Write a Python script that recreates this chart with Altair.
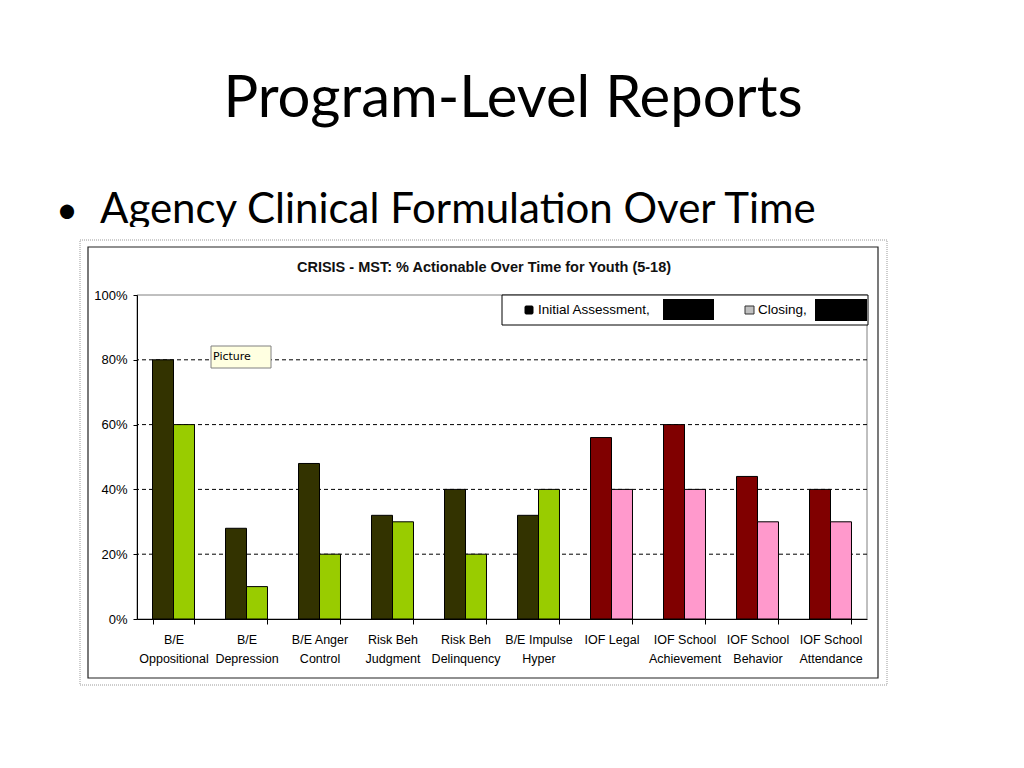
import altair as alt
import pandas as pd

# ---- data ----
categories = ["B/E|Oppositional", "B/E|Depression", "B/E Anger|Control",
              "Risk Beh|Judgment", "Risk Beh|Delinquency", "B/E Impulse|Hyper",
              "IOF Legal", "IOF School|Achievement", "IOF School|Behavior",
              "IOF School|Attendance"]
initial = [80, 28, 48, 32, 40, 32, 56, 60, 44, 40]
closing = [60, 10, 20, 30, 20, 40, 40, 40, 30, 30]
groups = ["BE", "BE", "BE", "BE", "BE", "BE", "IOF", "IOF", "IOF", "IOF"]
series = ["Initial Assessment", "Closing"]
y_ticks = [0, 20, 40, 60, 80, 100]
grid_values = [20, 40, 60, 80]

color_domain = ["BE-Initial Assessment", "BE-Closing", "IOF-Initial Assessment", "IOF-Closing"]
color_range = ["#333300", "#99CC00", "#800000", "#FF99CC"]

rows = []
for c, g, a, b in zip(categories, groups, initial, closing):
    rows.append({"category": c, "series": series[0], "value": a, "key": f"{g}-{series[0]}"})
    rows.append({"category": c, "series": series[1], "value": b, "key": f"{g}-{series[1]}"})
df = pd.DataFrame(rows)
grid_df = pd.DataFrame({"v": grid_values})
one = pd.DataFrame({"a": [0]})

W, H = 730, 324
AX = "Liberation Sans"

# slide title and bullet
slide_title = alt.Chart(one).mark_text(
    text="Program-Level Reports", font="Lato", fontSize=58, align="center",
    baseline="alphabetic", color="black"
).encode(x=alt.value(376), y=alt.value(-178))

bullet_dot = alt.Chart(one).mark_text(
    text="•", font="Lato", fontSize=38, align="center", baseline="alphabetic", color="black"
).encode(x=alt.value(-70), y=alt.value(-72))

bullet_text = alt.Chart(one).mark_text(
    text="Agency Clinical Formulation Over Time", font="Lato", fontSize=42, align="left",
    baseline="alphabetic", color="black"
).encode(x=alt.value(-37), y=alt.value(-72))

# white area of the pasted picture that clips the bullet line
cover = alt.Chart(one).mark_rect(fill="white").encode(
    x=alt.value(-57), x2=alt.value(750), y=alt.value(-68), y2=alt.value(-54))

# picture frame (dotted) and inner chart border
frame = alt.Chart(one).mark_rect(
    fill="white", stroke="#9a9a9a", strokeWidth=1, strokeDash=[1, 1]
).encode(x=alt.value(-57), x2=alt.value(750), y=alt.value(-55), y2=alt.value(390))

inner = alt.Chart(one).mark_rect(
    fill="white", stroke="#222222", strokeWidth=1.2
).encode(x=alt.value(-49), x2=alt.value(741), y=alt.value(-48), y2=alt.value(383))

plot_border = alt.Chart(one).mark_rect(
    fill="white", stroke="#808080", strokeWidth=1
).encode(x=alt.value(0), x2=alt.value(W), y=alt.value(0), y2=alt.value(H))

chart_title = alt.Chart(one).mark_text(
    text="CRISIS - MST: % Actionable Over Time for Youth (5-18)", font=AX, fontSize=14.5,
    fontWeight="bold", align="center", baseline="middle", color="#111111"
).encode(x=alt.value(347), y=alt.value(-27))

# gridlines
grid = alt.Chart(grid_df).mark_rule(color="black", strokeWidth=1, strokeDash=[4, 3]).encode(
    y=alt.Y("v:Q", scale=alt.Scale(domain=[0, 100]))
)

# bars
bars = alt.Chart(df).mark_bar(stroke="black", strokeWidth=1, opacity=1).encode(
    x=alt.X("category:N", sort=categories, title=None,
            scale=alt.Scale(paddingInner=0.425, paddingOuter=0.2125),
            axis=alt.Axis(labelAngle=0, labelExpr="split(datum.label, '|')",
                          labelFont=AX, labelFontSize=12.5, labelColor="black",
                          labelLineHeight=19, labelPadding=9, labelBaseline="top",
                          tickBand="extent", tickSize=5, tickColor="black",
                          domainColor="black", domainWidth=1, zindex=2,
                          labelLimit=200)),
    xOffset=alt.XOffset("series:N", sort=series),
    y=alt.Y("value:Q", title=None, scale=alt.Scale(domain=[0, 100]),
            axis=alt.Axis(values=y_ticks, labelExpr="datum.value + '%'", grid=False,
                          labelFont=AX, labelFontSize=13, labelColor="black",
                          labelPadding=6, tickSize=4, tickColor="black",
                          domainColor="black", domainWidth=1, zindex=2)),
    color=alt.Color("key:N", scale=alt.Scale(domain=color_domain, range=color_range),
                    legend=None),
)

# legend
leg_box = alt.Chart(one).mark_rect(fill="white", stroke="black", strokeWidth=1).encode(
    x=alt.value(365), x2=alt.value(731), y=alt.value(0), y2=alt.value(30))
leg_sym1 = alt.Chart(one).mark_rect(fill="black", stroke="black", cornerRadius=1).encode(
    x=alt.value(388), x2=alt.value(396), y=alt.value(11), y2=alt.value(19))
leg_txt1 = alt.Chart(one).mark_text(text="Initial Assessment,", font=AX, fontSize=13.5,
                                    align="left", baseline="middle", color="black").encode(
    x=alt.value(401), y=alt.value(15))
leg_red1 = alt.Chart(one).mark_rect(fill="black").encode(
    x=alt.value(526), x2=alt.value(577), y=alt.value(4), y2=alt.value(25))
leg_sym2 = alt.Chart(one).mark_rect(fill="#c0c0c0", stroke="#333333", strokeWidth=1).encode(
    x=alt.value(608), x2=alt.value(617), y=alt.value(11), y2=alt.value(19))
leg_txt2 = alt.Chart(one).mark_text(text="Closing,", font=AX, fontSize=13.5,
                                    align="left", baseline="middle", color="black").encode(
    x=alt.value(621), y=alt.value(15))
leg_red2 = alt.Chart(one).mark_rect(fill="black").encode(
    x=alt.value(678), x2=alt.value(730), y=alt.value(4), y2=alt.value(26))

# "Picture" tooltip box
tip_box = alt.Chart(one).mark_rect(fill="#FFFFE1", stroke="#808080", strokeWidth=1).encode(
    x=alt.value(74), x2=alt.value(134), y=alt.value(51), y2=alt.value(73))
tip_txt = alt.Chart(one).mark_text(text="Picture", font="DejaVu Sans", fontSize=11,
                                   align="left", baseline="middle", color="black").encode(
    x=alt.value(76), y=alt.value(62))

chart = alt.layer(
    slide_title, bullet_dot, bullet_text, cover, frame, inner, plot_border, chart_title,
    grid, bars, leg_box, leg_sym1, leg_txt1, leg_red1, leg_sym2, leg_txt2, leg_red2,
    tip_box, tip_txt
).properties(
    width=W, height=H,
    padding={"left": 129, "top": 287, "right": 149, "bottom": 141},
    autosize=alt.AutoSizeParams(type="none"),
    background="white",
).configure_view(stroke=None)

chart.save("out.html", embed_options={"renderer": "svg", "actions": False})
